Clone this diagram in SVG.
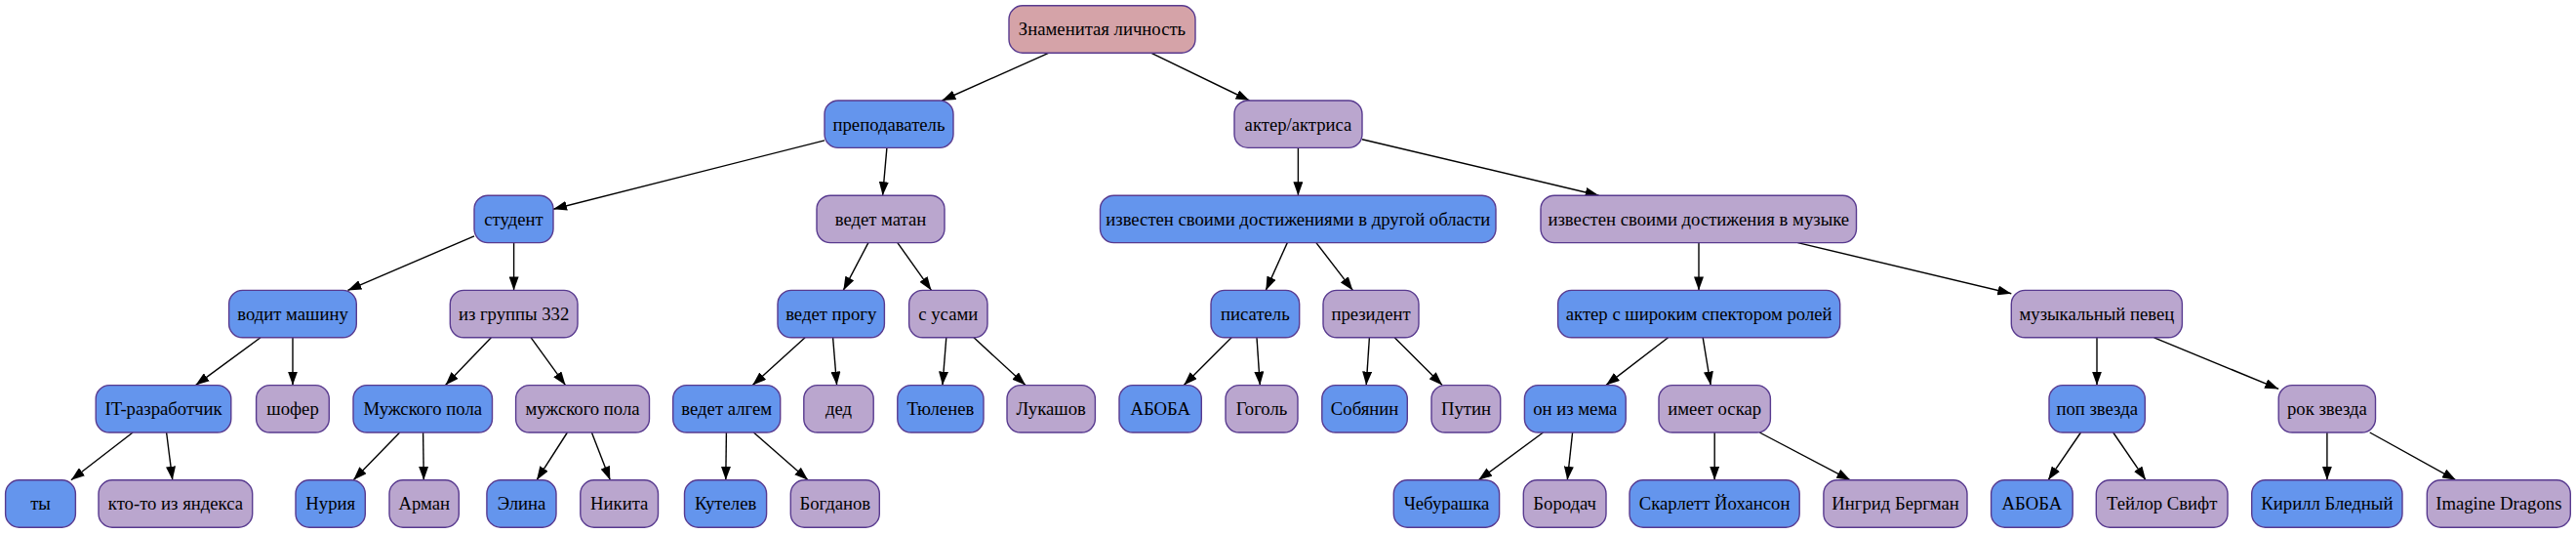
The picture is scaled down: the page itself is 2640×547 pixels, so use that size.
<svg xmlns="http://www.w3.org/2000/svg" width="2640" height="547" viewBox="0 0 2640 547">
<defs>
<style>
.n rect{stroke:#583a8f;stroke-width:1.4}
.b rect{fill:#6495ed}
.p rect{fill:#baa6ce}
.r rect{fill:#d5a3a8}
.n text{font-family:"Liberation Serif","Times New Roman",serif;font-size:18.7px;text-anchor:middle;fill:#000}
#edges line{stroke:#000;stroke-width:1.4;marker-end:url(#ah)}
</style>
<marker id="ah" viewBox="0 0 14 10" markerUnits="userSpaceOnUse" markerWidth="14" markerHeight="10" refX="14" refY="5" orient="auto">
<path d="M0,0 L14,5 L0,10 z" fill="#000"/>
</marker>
</defs>
<rect width="2640" height="547" fill="#fff"/>
<g id="edges">
<line x1="1075.1" y1="54.2" x2="965.4" y2="103"/>
<line x1="1179.5" y1="54.2" x2="1280.5" y2="103"/>
<line x1="845" y1="143.9" x2="567" y2="214.2"/>
<line x1="908.9" y1="151.4" x2="904.6" y2="200.2"/>
<line x1="1330.4" y1="151.4" x2="1330.4" y2="200.2"/>
<line x1="1396" y1="142.7" x2="1638.6" y2="200.2"/>
<line x1="486" y1="241.8" x2="356.4" y2="297.4"/>
<line x1="526.6" y1="248.6" x2="526.6" y2="297.4"/>
<line x1="889.9" y1="248.6" x2="864.3" y2="297.4"/>
<line x1="919.8" y1="248.6" x2="954.5" y2="297.4"/>
<line x1="1319.3" y1="248.6" x2="1297.3" y2="297.4"/>
<line x1="1348.9" y1="248.6" x2="1386.4" y2="297.4"/>
<line x1="1741" y1="248.6" x2="1741" y2="297.4"/>
<line x1="1842.4" y1="248.6" x2="2061.3" y2="300.7"/>
<line x1="267" y1="345.8" x2="200.5" y2="394.6"/>
<line x1="300" y1="345.8" x2="300" y2="394.6"/>
<line x1="503.4" y1="345.8" x2="456.5" y2="394.6"/>
<line x1="544.2" y1="345.8" x2="579.5" y2="394.6"/>
<line x1="825.1" y1="345.8" x2="771.3" y2="394.6"/>
<line x1="853.6" y1="345.8" x2="857.6" y2="394.6"/>
<line x1="969.8" y1="345.8" x2="965.9" y2="394.6"/>
<line x1="998" y1="345.8" x2="1051" y2="394.6"/>
<line x1="1262.1" y1="345.8" x2="1213.3" y2="394.6"/>
<line x1="1288" y1="345.8" x2="1291.3" y2="394.6"/>
<line x1="1403.4" y1="345.8" x2="1400.2" y2="394.6"/>
<line x1="1429.2" y1="345.8" x2="1478.1" y2="394.6"/>
<line x1="1709.6" y1="345.8" x2="1645.9" y2="394.6"/>
<line x1="1745.2" y1="345.8" x2="1753.2" y2="394.6"/>
<line x1="2149" y1="345.8" x2="2149" y2="394.6"/>
<line x1="2207.6" y1="345.8" x2="2335.2" y2="398.4"/>
<line x1="136.1" y1="443" x2="72.9" y2="491.8"/>
<line x1="170.6" y1="443" x2="176.8" y2="491.8"/>
<line x1="409.7" y1="443" x2="362.2" y2="491.8"/>
<line x1="433.6" y1="443" x2="434.3" y2="491.8"/>
<line x1="581.4" y1="443" x2="550" y2="491.8"/>
<line x1="606.4" y1="443" x2="625.3" y2="491.8"/>
<line x1="744.4" y1="443" x2="743.8" y2="491.8"/>
<line x1="772.4" y1="443" x2="828.1" y2="491.8"/>
<line x1="1581.5" y1="443" x2="1515.2" y2="491.8"/>
<line x1="1611.6" y1="443" x2="1606.3" y2="491.8"/>
<line x1="1757.2" y1="443" x2="1757.2" y2="491.8"/>
<line x1="1803.3" y1="443" x2="1896.3" y2="491.8"/>
<line x1="2132.5" y1="443" x2="2099" y2="491.8"/>
<line x1="2165.7" y1="443" x2="2199.1" y2="491.8"/>
<line x1="2384.9" y1="443" x2="2384.9" y2="491.8"/>
<line x1="2428.7" y1="443" x2="2517" y2="491.8"/>
</g>
<g id="n0" class="n r"><rect x="1034" y="5.8" width="191" height="48.4" rx="14"/><text x="1129.5" y="36.3">Знаменитая личность</text></g>
<g id="n1" class="n b"><rect x="845" y="103" width="132" height="48.4" rx="14"/><text x="911" y="133.5">преподаватель</text></g>
<g id="n2" class="n p"><rect x="1265" y="103" width="131" height="48.4" rx="14"/><text x="1330.5" y="133.5">актер/актриса</text></g>
<g id="n3" class="n b"><rect x="486" y="200.2" width="81" height="48.4" rx="14"/><text x="526.5" y="230.7">студент</text></g>
<g id="n4" class="n p"><rect x="837" y="200.2" width="131" height="48.4" rx="14"/><text x="902.5" y="230.7">ведет матан</text></g>
<g id="n5" class="n b"><rect x="1127.5" y="200.2" width="405.5" height="48.4" rx="14"/><text x="1330.3" y="230.7">известен своими достижениями в другой области</text></g>
<g id="n6" class="n p"><rect x="1579" y="200.2" width="323.5" height="48.4" rx="14"/><text x="1740.8" y="230.7">известен своими достижения в музыке</text></g>
<g id="n7" class="n b"><rect x="234.6" y="297.4" width="130.7" height="48.4" rx="14"/><text x="300" y="327.9">водит машину</text></g>
<g id="n8" class="n p"><rect x="461.3" y="297.4" width="130.7" height="48.4" rx="14"/><text x="526.6" y="327.9">из группы 332</text></g>
<g id="n9" class="n b"><rect x="797" y="297.4" width="109.4" height="48.4" rx="14"/><text x="851.7" y="327.9">ведет прогу</text></g>
<g id="n10" class="n p"><rect x="931.6" y="297.4" width="80.4" height="48.4" rx="14"/><text x="971.8" y="327.9">с усами</text></g>
<g id="n11" class="n b"><rect x="1241" y="297.4" width="90.7" height="48.4" rx="14"/><text x="1286.4" y="327.9">писатель</text></g>
<g id="n12" class="n p"><rect x="1356" y="297.4" width="98" height="48.4" rx="14"/><text x="1405" y="327.9">президент</text></g>
<g id="n13" class="n b"><rect x="1596.6" y="297.4" width="289.1" height="48.4" rx="14"/><text x="1741.2" y="327.9">актер с широким спектором ролей</text></g>
<g id="n14" class="n p"><rect x="2061.3" y="297.4" width="175.1" height="48.4" rx="14"/><text x="2148.9" y="327.9">музыкальный певец</text></g>
<g id="n15" class="n b"><rect x="98.2" y="394.6" width="138.6" height="48.4" rx="14"/><text x="167.5" y="425.1">IT-разработчик</text></g>
<g id="n16" class="n p"><rect x="262.6" y="394.6" width="74.7" height="48.4" rx="14"/><text x="300" y="425.1">шофер</text></g>
<g id="n17" class="n b"><rect x="362" y="394.6" width="142.5" height="48.4" rx="14"/><text x="433.3" y="425.1">Мужского пола</text></g>
<g id="n18" class="n p"><rect x="528.6" y="394.6" width="136.9" height="48.4" rx="14"/><text x="597" y="425.1">мужского пола</text></g>
<g id="n19" class="n b"><rect x="689.7" y="394.6" width="110" height="48.4" rx="14"/><text x="744.7" y="425.1">ведет алгем</text></g>
<g id="n20" class="n p"><rect x="823.8" y="394.6" width="71.4" height="48.4" rx="14"/><text x="859.5" y="425.1">дед</text></g>
<g id="n21" class="n b"><rect x="919.8" y="394.6" width="88.2" height="48.4" rx="14"/><text x="963.9" y="425.1">Тюленев</text></g>
<g id="n22" class="n p"><rect x="1032" y="394.6" width="90.4" height="48.4" rx="14"/><text x="1077.2" y="425.1">Лукашов</text></g>
<g id="n23" class="n b"><rect x="1147" y="394.6" width="84.3" height="48.4" rx="14"/><text x="1189.2" y="425.1">АБОБА</text></g>
<g id="n24" class="n p"><rect x="1256" y="394.6" width="74" height="48.4" rx="14"/><text x="1293" y="425.1">Гоголь</text></g>
<g id="n25" class="n b"><rect x="1354.8" y="394.6" width="87.5" height="48.4" rx="14"/><text x="1398.6" y="425.1">Собянин</text></g>
<g id="n26" class="n p"><rect x="1467" y="394.6" width="70.7" height="48.4" rx="14"/><text x="1502.4" y="425.1">Путин</text></g>
<g id="n27" class="n b"><rect x="1562.4" y="394.6" width="103.8" height="48.4" rx="14"/><text x="1614.3" y="425.1">он из мема</text></g>
<g id="n28" class="n p"><rect x="1700" y="394.6" width="114.4" height="48.4" rx="14"/><text x="1757.2" y="425.1">имеет оскар</text></g>
<g id="n29" class="n b"><rect x="2100" y="394.6" width="98.3" height="48.4" rx="14"/><text x="2149.2" y="425.1">поп звезда</text></g>
<g id="n30" class="n p"><rect x="2335.2" y="394.6" width="99.3" height="48.4" rx="14"/><text x="2384.9" y="425.1">рок звезда</text></g>
<g id="n31" class="n b"><rect x="5.6" y="491.8" width="71.8" height="48.4" rx="14"/><text x="41.5" y="522.3">ты</text></g>
<g id="n32" class="n p"><rect x="101" y="491.8" width="157.7" height="48.4" rx="14"/><text x="179.9" y="522.3">кто-то из яндекса</text></g>
<g id="n33" class="n b"><rect x="303" y="491.8" width="71.3" height="48.4" rx="14"/><text x="338.7" y="522.3">Нурия</text></g>
<g id="n34" class="n p"><rect x="399" y="491.8" width="71.3" height="48.4" rx="14"/><text x="434.7" y="522.3">Арман</text></g>
<g id="n35" class="n b"><rect x="498.9" y="491.8" width="71.1" height="48.4" rx="14"/><text x="534.5" y="522.3">Элина</text></g>
<g id="n36" class="n p"><rect x="594.8" y="491.8" width="79.7" height="48.4" rx="14"/><text x="634.7" y="522.3">Никита</text></g>
<g id="n37" class="n b"><rect x="701.5" y="491.8" width="84.1" height="48.4" rx="14"/><text x="743.6" y="522.3">Кутелев</text></g>
<g id="n38" class="n p"><rect x="810.3" y="491.8" width="91" height="48.4" rx="14"/><text x="855.8" y="522.3">Богданов</text></g>
<g id="n39" class="n b"><rect x="1428.3" y="491.8" width="108.3" height="48.4" rx="14"/><text x="1482.5" y="522.3">Чебурашка</text></g>
<g id="n40" class="n p"><rect x="1561.3" y="491.8" width="84.7" height="48.4" rx="14"/><text x="1603.7" y="522.3">Бородач</text></g>
<g id="n41" class="n b"><rect x="1670" y="491.8" width="174.2" height="48.4" rx="14"/><text x="1757.1" y="522.3">Скарлетт Йохансон</text></g>
<g id="n42" class="n p"><rect x="1868.9" y="491.8" width="147.1" height="48.4" rx="14"/><text x="1942.5" y="522.3">Ингрид Бергман</text></g>
<g id="n43" class="n b"><rect x="2040.6" y="491.8" width="83.6" height="48.4" rx="14"/><text x="2082.4" y="522.3">АБОБА</text></g>
<g id="n44" class="n p"><rect x="2148.3" y="491.8" width="134.7" height="48.4" rx="14"/><text x="2215.7" y="522.3">Тейлор Свифт</text></g>
<g id="n45" class="n b"><rect x="2307.7" y="491.8" width="154.3" height="48.4" rx="14"/><text x="2384.9" y="522.3">Кирилл Бледный</text></g>
<g id="n46" class="n p"><rect x="2487.3" y="491.8" width="147" height="48.4" rx="14"/><text x="2560.8" y="522.3">Imagine Dragons</text></g>
</svg>
